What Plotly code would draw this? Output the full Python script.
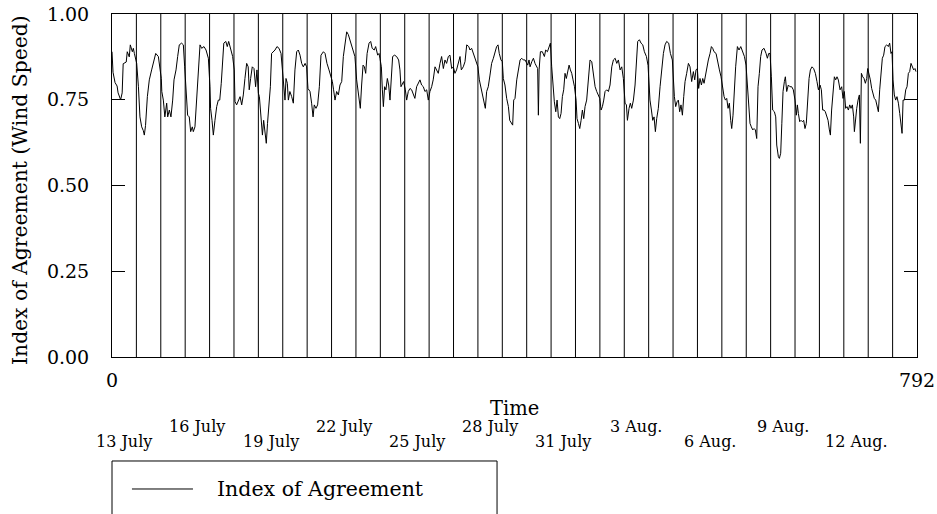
import plotly.graph_objects as go

# ---- data -------------------------------------------------------------
hours = [
 0.0,1.0,3.0,5.0,6.0,8.5,10.0,11.0,14.0,15.0,17.0,18.0,20.0,21.0,22.0,23.6,
 24.3,26.0,27.5,29.2,30.8,31.8,33.0,34.8,36.7,39.0,41.3,43.0,45.6,47.2,48.5,
 49.0,50.5,52.0,53.8,54.8,56.4,58.0,59.7,61.0,63.0,64.6,66.2,68.5,70.2,71.5,72.5,
 73.4,74.4,76.0,77.4,79.0,80.0,81.6,83.3,85.0,86.6,88.2,90.5,92.5,94.8,96.4,
 97.0,98.4,99.7,101.3,103.0,104.6,106.0,107.5,108.9,110.0,112.0,113.4,114.8,116.7,118.7,120.3,
 121.0,122.6,124.3,126.0,127.6,129.2,130.8,132.5,134.0,135.0,136.4,138.0,139.7,141.3,142.6,144.0,
 145.0,146.6,148.0,149.2,150.5,151.8,153.0,154.5,155.8,157.0,158.7,160.4,162.3,164.3,166.3,168.0,
 169.2,170.2,171.2,172.5,173.5,175.0,176.8,178.4,180.0,181.7,183.3,185.0,186.6,188.2,190.0,191.5,
 192.8,194.8,196.4,197.8,199.0,200.7,202.3,204.0,205.6,208.0,209.6,211.5,213.5,215.5,
 216.8,218.0,219.4,221.0,222.7,224.3,226.0,227.6,229.2,230.9,232.5,234.0,235.8,237.4,239.0,
 240.7,241.7,243.0,244.3,245.6,247.0,248.3,249.6,251.0,252.9,254.5,256.0,258.0,259.4,261.4,262.7,263.6,
 265.0,266.0,267.0,268.2,269.5,270.9,272.2,273.5,274.5,276.1,278.0,280.0,282.0,283.3,284.3,285.6,286.9,
 288.6,289.9,291.5,293.2,294.8,296.4,298.0,299.7,301.4,303.0,304.6,306.3,307.9,309.6,311.2,
 312.8,314.5,316.0,317.8,319.4,321.0,322.7,324.3,326.0,327.6,329.2,330.9,332.5,334.2,335.8,
 337.4,339.0,340.7,342.4,343.7,345.6,347.3,349.0,351.0,352.2,353.8,355.5,357.1,358.8,360.0,
 361.4,363.0,364.7,366.0,367.3,368.6,370.2,371.9,373.5,375.2,376.8,378.4,379.8,381.0,382.7,384.0,
 385.0,386.6,388.3,390.0,391.3,392.8,394.2,395.2,396.5,398.2,399.8,401.5,403.1,404.7,406.4,
 409.0,410.3,411.3,413.0,414.6,416.2,417.9,418.8,419.5,420.2,421.5,423.4,425.4,426.7,428.4,429.7,431.3,
 432.6,434.0,435.2,436.6,437.9,439.2,440.5,441.8,443.1,444.4,445.7,447.0,448.4,449.7,451.0,452.3,453.6,455.0,
 456.6,457.5,458.9,460.2,461.5,462.8,464.1,465.4,467.0,468.7,470.3,472.0,473.6,475.3,476.9,478.5,479.9,
 481.2,482.5,483.8,485.1,486.7,488.4,490.0,491.7,493.3,495.0,496.6,498.2,499.9,501.5,503.1,
 504.8,506.1,507.1,508.7,510.0,511.3,513.0,514.6,516.0,517.2,518.9,520.5,522.2,523.8,525.8,527.4,
 528.0,529.3,530.7,532.0,533.3,534.6,535.9,537.5,539.2,540.8,542.5,544.1,545.7,547.7,549.4,551.3,
 553.3,554.6,555.9,557.2,558.5,559.8,561.2,562.5,563.8,565.4,567.1,568.7,570.3,572.0,573.3,574.6,575.9,
 577.2,578.5,579.9,581.2,582.5,583.8,585.1,586.7,588.4,589.7,591.0,592.3,594.3,595.9,597.6,599.2,
 600.8,602.2,603.5,604.8,606.1,607.4,608.7,609.7,611.0,612.3,613.6,615.3,616.9,618.6,620.5,622.2,623.8,
 625.1,626.4,627.7,629.0,630.4,631.7,633.0,634.3,635.6,636.9,638.2,639.5,641.5,643.5,644.8,646.1,647.4,
 648.7,650.0,651.7,653.0,654.0,655.6,656.6,657.9,659.0,660.2,661.5,662.5,663.8,665.4,667.0,668.7,670.3,672.0,
 673.3,674.3,675.3,676.6,677.9,679.2,680.5,681.8,683.1,684.4,685.8,687.1,688.7,690.3,692.0,693.6,695.0,
 696.6,697.9,699.2,700.5,701.8,703.1,704.5,705.8,706.8,708.0,709.4,710.7,712.0,713.3,714.6,716.3,717.9,719.2,
 720.5,721.8,723.1,724.5,725.8,727.1,728.4,729.7,730.4,731.3,732.7,734.0,735.3,736.3,737.3,738.6,739.9,741.2,742.5,743.5,
 744.8,746.1,747.4,748.7,750.0,751.4,752.7,754.0,755.3,756.6,757.9,759.2,760.5,762.2,763.8,765.1,766.4,767.4,
 768.4,769.7,771.0,772.3,773.7,775.0,776.3,777.3,778.3,779.6,780.9,782.2,783.5,784.8,786.1,787.4,788.7,790.0,791.0,
]

agreement = [
 0.89,0.83,0.80,0.79,0.77,0.75,0.77,0.855,0.86,0.89,0.875,0.91,0.89,0.90,0.885,0.865,
 0.856,0.788,0.70,0.671,0.66,0.647,0.675,0.759,0.808,0.837,0.866,0.885,0.876,0.837,0.812,
 0.774,0.749,0.70,0.74,0.70,0.72,0.70,0.749,0.808,0.837,0.876,0.91,0.915,0.91,0.846,0.788,
 0.749,0.705,0.70,0.657,0.671,0.657,0.671,0.749,0.856,0.91,0.90,0.905,0.895,0.871,0.788,
 0.725,0.69,0.647,0.69,0.73,0.749,0.749,0.798,0.866,0.915,0.92,0.905,0.92,0.895,0.876,0.837,
 0.745,0.735,0.749,0.759,0.735,0.764,0.812,0.856,0.846,0.779,0.812,0.846,0.841,0.788,0.837,0.769,
 0.759,0.69,0.647,0.69,0.662,0.623,0.681,0.73,0.788,0.885,0.89,0.895,0.905,0.90,0.885,0.827,
 0.798,0.749,0.812,0.798,0.749,0.774,0.759,0.74,0.837,0.89,0.895,0.88,0.856,0.846,0.856,0.846,
 0.783,0.774,0.74,0.70,0.735,0.725,0.735,0.788,0.88,0.89,0.885,0.856,0.837,0.817,
 0.803,0.779,0.749,0.774,0.764,0.793,0.803,0.876,0.915,0.948,0.94,0.925,0.905,0.885,0.876,
 0.808,0.788,0.759,0.725,0.793,0.851,0.846,0.827,0.885,0.915,0.92,0.90,0.895,0.905,0.88,0.885,0.871,
 0.846,0.779,0.73,0.788,0.779,0.812,0.793,0.749,0.798,0.876,0.88,0.876,0.866,0.837,0.788,0.798,0.803,
 0.779,0.749,0.774,0.783,0.779,0.769,0.754,0.788,0.798,0.808,0.793,0.788,0.774,0.779,0.749,
 0.774,0.788,0.808,0.846,0.837,0.827,0.856,0.876,0.841,0.866,0.856,0.876,0.88,0.841,0.846,
 0.827,0.837,0.856,0.876,0.837,0.846,0.861,0.91,0.905,0.895,0.90,0.885,0.876,0.856,0.846,
 0.808,0.788,0.759,0.744,0.725,0.774,0.788,0.822,0.856,0.871,0.885,0.905,0.91,0.885,0.866,0.861,
 0.812,0.793,0.754,0.73,0.69,0.681,0.676,0.749,0.754,0.808,0.837,0.866,0.871,0.866,0.866,
 0.851,0.866,0.846,0.861,0.871,0.856,0.846,0.841,0.705,0.837,0.89,0.89,0.876,0.895,0.89,0.905,0.915,
 0.846,0.788,0.744,0.715,0.749,0.70,0.695,0.71,0.759,0.779,0.827,0.812,0.837,0.851,0.837,0.827,0.808,0.788,
 0.749,0.695,0.681,0.666,0.69,0.72,0.695,0.73,0.749,0.817,0.866,0.861,0.827,0.788,0.774,0.764,0.754,
 0.72,0.73,0.749,0.774,0.779,0.774,0.793,0.846,0.866,0.871,0.856,0.866,0.837,0.846,0.812,
 0.74,0.735,0.69,0.725,0.74,0.725,0.749,0.793,0.866,0.92,0.925,0.915,0.91,0.89,0.876,0.85,
 0.817,0.749,0.72,0.69,0.70,0.657,0.695,0.725,0.788,0.837,0.885,0.91,0.92,0.915,0.885,0.866,
 0.759,0.73,0.744,0.749,0.715,0.735,0.705,0.759,0.803,0.827,0.856,0.846,0.803,0.832,0.808,0.837,0.841,
 0.783,0.812,0.793,0.812,0.798,0.822,0.837,0.866,0.885,0.905,0.90,0.89,0.885,0.866,0.837,0.817,
 0.788,0.759,0.749,0.754,0.725,0.74,0.69,0.666,0.705,0.788,0.846,0.905,0.895,0.905,0.89,0.876,0.851,
 0.788,0.73,0.681,0.671,0.662,0.666,0.662,0.637,0.788,0.827,0.876,0.895,0.90,0.885,0.871,0.885,0.885,
 0.817,0.72,0.715,0.70,0.618,0.584,0.579,0.594,0.68,0.774,0.803,0.817,0.774,0.793,0.788,0.788,0.779,0.749,
 0.705,0.735,0.71,0.686,0.69,0.686,0.69,0.666,0.681,0.759,0.812,0.837,0.846,0.841,0.827,0.803,0.779,
 0.793,0.779,0.72,0.72,0.715,0.705,0.69,0.662,0.647,0.72,0.788,0.817,0.808,0.817,0.808,0.779,0.788,0.754,
 0.774,0.725,0.73,0.72,0.735,0.725,0.735,0.70,0.657,0.695,0.725,0.749,0.764,0.623,0.827,0.817,0.812,0.798,0.812,0.841,
 0.827,0.808,0.783,0.769,0.754,0.749,0.73,0.715,0.779,0.837,0.871,0.88,0.905,0.91,0.905,0.915,0.885,0.89,
 0.808,0.764,0.749,0.759,0.74,0.71,0.662,0.652,0.749,0.749,0.779,0.788,0.827,0.832,0.856,0.846,0.837,0.841,0.832,
]

x_tick_vals = [0, 792]
x_tick_text = ["0", "792"]
y_tick_vals = [0, 0.25, 0.5, 0.75, 1.0]
y_tick_text = ["0.00", "0.25", "0.50", "0.75", "1.00"]
day_boundaries = list(range(24, 792, 24))
date_label_hours = [12, 84, 156, 228, 300, 372, 444, 516, 588, 660, 732]
date_labels = ["13 July", "16 July", "19 July", "22 July", "25 July", "28 July",
               "31 July", "3 Aug.", "6 Aug.", "9 Aug.", "12 Aug."]
series_name = "Index of Agreement"

FONT = "DejaVu Serif"

fig = go.Figure()
fig.add_trace(go.Scatter(x=hours, y=agreement, mode="lines", name=series_name,
                         line=dict(color="black", width=1), showlegend=False,
                         hoverinfo="skip"))

for h in day_boundaries:
    fig.add_shape(type="line", xref="x", yref="paper", x0=h, x1=h, y0=0, y1=1,
                  line=dict(color="black", width=1), layer="below")

annotations = []
for i, (h, lab) in enumerate(zip(date_label_hours, date_labels)):
    yy = -0.2449 if i % 2 == 0 else -0.2012
    annotations.append(dict(x=h, y=yy, xref="x", yref="paper", text=lab, showarrow=False,
                            xanchor="center", yanchor="middle",
                            font=dict(family=FONT, size=16, color="black")))
annotations.append(dict(x=0.5, y=-0.1487, xref="paper", yref="paper", text="Time",
                        showarrow=False, xanchor="center", yanchor="middle",
                        font=dict(family=FONT, size=19.5, color="black")))
annotations.append(dict(x=-0.1143, y=0.487, xref="paper", yref="paper",
                        text="Index of Agreement (Wind Speed)", textangle=-90,
                        showarrow=False, xanchor="center", yanchor="middle",
                        font=dict(family=FONT, size=20.3, color="black")))
# legend box
annotations.append(dict(x=0.128, y=-0.3848, xref="paper", yref="paper", text=series_name,
                        showarrow=False, xanchor="left", yanchor="middle",
                        font=dict(family=FONT, size=20.5, color="black")))
fig.add_shape(type="rect", xref="paper", yref="paper", x0=0, x1=0.4783, y0=-0.53, y1=-0.3032,
              line=dict(color="black", width=1))
fig.add_shape(type="line", xref="paper", yref="paper", x0=0.0248, x1=0.1006, y0=-0.3848, y1=-0.3848,
              line=dict(color="black", width=1))

fig.update_layout(
    width=937, height=514,
    margin=dict(l=112, r=20, t=14, b=157, pad=0, autoexpand=False),
    plot_bgcolor="white", paper_bgcolor="white",
    font=dict(family=FONT, size=19, color="black"),
    annotations=annotations,
    showlegend=False,
    hovermode=False,
    xaxis=dict(range=[0, 792], tickvals=x_tick_vals, ticktext=x_tick_text, ticks="",
               showline=True, mirror=True, linecolor="black", linewidth=1,
               showgrid=False, zeroline=False, ticklabelstandoff=6, automargin=False,
               ticklabeloverflow="allow",
               tickfont=dict(family=FONT, size=19, color="black")),
    yaxis=dict(range=[0, 1], tickvals=y_tick_vals, ticktext=y_tick_text,
               ticks="inside", ticklen=13, tickcolor="black", tickwidth=1,
               showline=True, mirror="ticks", linecolor="black", linewidth=1,
               showgrid=False, zeroline=False, ticklabelstandoff=18, automargin=False,
               ticklabeloverflow="allow",
               tickfont=dict(family=FONT, size=19, color="black")),
)

# remove the browser's default 8px body margin so the figure fills the window exactly
fig.write_html("out.html", config={"displayModeBar": False},
               post_script="document.body.style.margin='0';document.body.style.overflow='hidden';")
